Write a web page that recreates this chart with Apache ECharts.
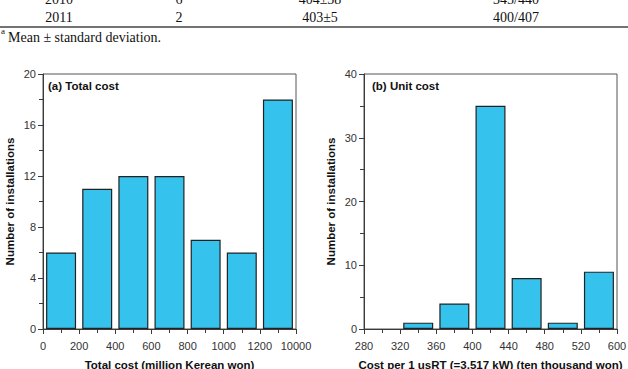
<!DOCTYPE html>
<html>
<head>
<meta charset="utf-8">
<script src="https://cdn.jsdelivr.net/npm/echarts@6/dist/echarts.min.js"></script>
<style>
html, body { margin: 0; padding: 0; background: #fff; }
#main { width: 628px; height: 369px; }
</style>
</head>
<body>
<div id="main"></div>
<script>
// table rows above the figure (only the tail of the table is visible)
var tableYears = ['2010', '2011'];
var tableCounts = ['6', '2'];
var tableMeanSd = ['404\u00b138', '403\u00b15'];
var tableMinMax = ['345/440', '400/407'];

// (a) total cost histogram
var totalEdges = ['0', '200', '400', '600', '800', '1000', '1200', '10000'];
var totalCounts = [6, 11, 12, 12, 7, 6, 18];

// (b) unit cost histogram
var unitEdges = ['280', '320', '360', '400', '440', '480', '520', '600'];
var unitCounts = [0, 1, 4, 35, 8, 1, 9];

var myChart = echarts.init(document.getElementById('main'), null, {renderer: 'svg'});

var BAR_COLOR = '#35c3ee';
var AXIS_COLOR = '#3a3a3a';
var SANS = 'Liberation Sans, Arial, sans-serif';
var SERIF = 'Liberation Serif, Times New Roman, serif';

function toBins(counts){
    return counts.map(function(c, i){
        return [i + 0.5, c > 0 ? c : '-'];
    });
}

function xAxisFor(gridIdx, edges, name){
    return {
        gridIndex: gridIdx,
        type: 'value',
        min: 0,
        max: edges.length - 1,
        interval: 1,
        name: name,
        nameLocation: 'middle',
        nameGap: 30,
        nameTextStyle: {fontFamily: SANS, fontSize: 11.5, fontWeight: 'bold', color: '#111'},
        axisLine: {show: true, lineStyle: {color: AXIS_COLOR, width: 1}},
        axisTick: {show: true, length: 5, lineStyle: {color: AXIS_COLOR}},
        minorTick: {show: true, splitNumber: 2, length: 4, lineStyle: {color: AXIS_COLOR}},
        splitLine: {show: false},
        axisLabel: {
            margin: 11,
            fontFamily: SANS,
            fontSize: 11,
            color: '#333',
            formatter: function(v){ return edges[Math.round(v)]; }
        }
    };
}

function yAxisFor(gridIdx, max, interval){
    return {
        gridIndex: gridIdx,
        type: 'value',
        min: 0,
        max: max,
        interval: interval,
        name: 'Number of installations',
        nameLocation: 'middle',
        nameGap: 27,
        nameRotate: 90,
        nameTextStyle: {fontFamily: SANS, fontSize: 11.5, fontWeight: 'bold', color: '#111'},
        axisLine: {show: true, lineStyle: {color: AXIS_COLOR, width: 1}},
        axisTick: {show: true, length: 5, lineStyle: {color: AXIS_COLOR}},
        minorTick: {show: true, splitNumber: 2, length: 4, lineStyle: {color: AXIS_COLOR}},
        splitLine: {show: false},
        axisLabel: {margin: 7, fontFamily: SANS, fontSize: 11, color: '#333'}
    };
}

function barSeries(idx, counts){
    return {
        type: 'bar',
        xAxisIndex: idx,
        yAxisIndex: idx,
        data: toBins(counts),
        barWidth: 30,
        itemStyle: {color: BAR_COLOR, borderColor: '#222', borderWidth: 1.2},
        silent: true
    };
}

var tableTexts = [];
var colX = [59, 179, 320, 516];
var rowY = [-1, 17];
tableYears.forEach(function(y, i){
    var row = [y, tableCounts[i], tableMeanSd[i], tableMinMax[i]];
    row.forEach(function(t, j){
        tableTexts.push({
            type: 'text', x: colX[j], y: rowY[i],
            style: {text: t, font: '14px ' + SERIF, fill: '#111', align: 'center', verticalAlign: 'middle'}
        });
    });
});

var option = {
    backgroundColor: '#fff',
    animation: false,
    grid: [
        {left: 43, top: 74, width: 253, height: 255, outerBoundsMode: 'none', show: true, borderColor: '#555', borderWidth: 1},
        {left: 364, top: 74, width: 253, height: 255, outerBoundsMode: 'none', show: true, borderColor: '#555', borderWidth: 1}
    ],
    xAxis: [
        xAxisFor(0, totalEdges, 'Total cost (million Kerean won)'),
        xAxisFor(1, unitEdges, 'Cost per 1 usRT (=3.517 kW) (ten thousand won)')
    ],
    yAxis: [
        yAxisFor(0, 20, 4),
        yAxisFor(1, 40, 10)
    ],
    series: [
        barSeries(0, totalCounts),
        barSeries(1, unitCounts)
    ],
    graphic: tableTexts.concat([
        {type: 'line', shape: {x1: 0, y1: 27, x2: 628, y2: 27}, style: {stroke: '#444', lineWidth: 1.5}},
        {type: 'text', x: 1, y: 31, style: {text: 'a', font: '9px ' + SERIF, fill: '#111', verticalAlign: 'middle'}},
        {type: 'text', x: 8, y: 37, style: {text: 'Mean \u00b1 standard deviation.', font: '14px ' + SERIF, fill: '#111', verticalAlign: 'middle'}},
        {type: 'text', x: 48, y: 86, style: {text: '(a) Total cost', font: 'bold 11.5px ' + SANS, fill: '#111', verticalAlign: 'middle'}},
        {type: 'text', x: 372, y: 86, style: {text: '(b) Unit cost', font: 'bold 11.5px ' + SANS, fill: '#111', verticalAlign: 'middle'}}
    ])
};

myChart.setOption(option);
</script>
</body>
</html>
